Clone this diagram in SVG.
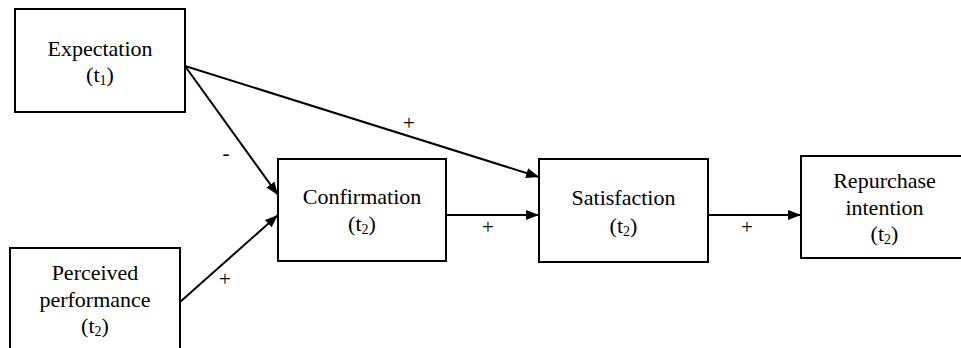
<svg xmlns="http://www.w3.org/2000/svg" width="961" height="348" viewBox="0 0 961 348">
<style>
.box{fill:#fff;stroke:#000;stroke-width:2}
.t{font-family:'Liberation Serif','Times New Roman',serif;font-size:22px;fill:#000;text-anchor:middle}
.s{font-size:14px}
.lbl{font-family:'Liberation Serif','Times New Roman',serif;font-size:21px;fill:#000;text-anchor:middle}
.c{stroke:#000;stroke-width:2;fill:none;marker-end:url(#ah)}
</style>
<defs>
<marker id="ah" markerUnits="userSpaceOnUse" markerWidth="14" markerHeight="11" refX="13" refY="5" orient="auto">
<path d="M0,0 L13,5 L0,10 z" fill="#000"/>
</marker>
</defs>
<rect width="961" height="348" fill="#fff"/>
<g id="connectors">
<line class="c" x1="185" y1="66" x2="278" y2="195"/>
<line class="c" x1="185" y1="66" x2="539" y2="177"/>
<line class="c" x1="180" y1="302" x2="278" y2="215"/>
<line class="c" x1="446" y1="215" x2="539" y2="215"/>
<line class="c" x1="708" y1="215" x2="801" y2="215"/>
<text class="lbl" x="226" y="160">-</text>
<text class="lbl" x="409" y="130">+</text>
<text class="lbl" x="225" y="286">+</text>
<text class="lbl" x="488" y="234">+</text>
<text class="lbl" x="747" y="234">+</text>
</g>
<g id="expectation">
<rect class="box" x="15" y="9" width="170" height="103"/>
<text class="t" x="100" y="56">Expectation</text>
<text class="t" x="100" y="82">(t<tspan class="s" dy="3">1</tspan><tspan dy="-3">)</tspan></text>
</g>
<g id="perceived">
<rect class="box" x="10" y="248" width="170" height="120"/>
<text class="t" x="95" y="280">Perceived</text>
<text class="t" x="95" y="307">performance</text>
<text class="t" x="95" y="333">(t<tspan class="s" dy="3">2</tspan><tspan dy="-3">)</tspan></text>
</g>
<g id="confirmation">
<rect class="box" x="278" y="159" width="168" height="102"/>
<text class="t" x="362" y="204">Confirmation</text>
<text class="t" x="362" y="231">(t<tspan class="s" dy="3">2</tspan><tspan dy="-3">)</tspan></text>
</g>
<g id="satisfaction">
<rect class="box" x="539" y="159" width="169" height="103"/>
<text class="t" x="623.5" y="205">Satisfaction</text>
<text class="t" x="623.5" y="233">(t<tspan class="s" dy="3">2</tspan><tspan dy="-3">)</tspan></text>
</g>
<g id="repurchase">
<rect class="box" x="801" y="156" width="168" height="102"/>
<text class="t" x="884.5" y="188">Repurchase</text>
<text class="t" x="884.5" y="215">intention</text>
<text class="t" x="884.5" y="241">(t<tspan class="s" dy="3">2</tspan><tspan dy="-3">)</tspan></text>
</g>
</svg>
